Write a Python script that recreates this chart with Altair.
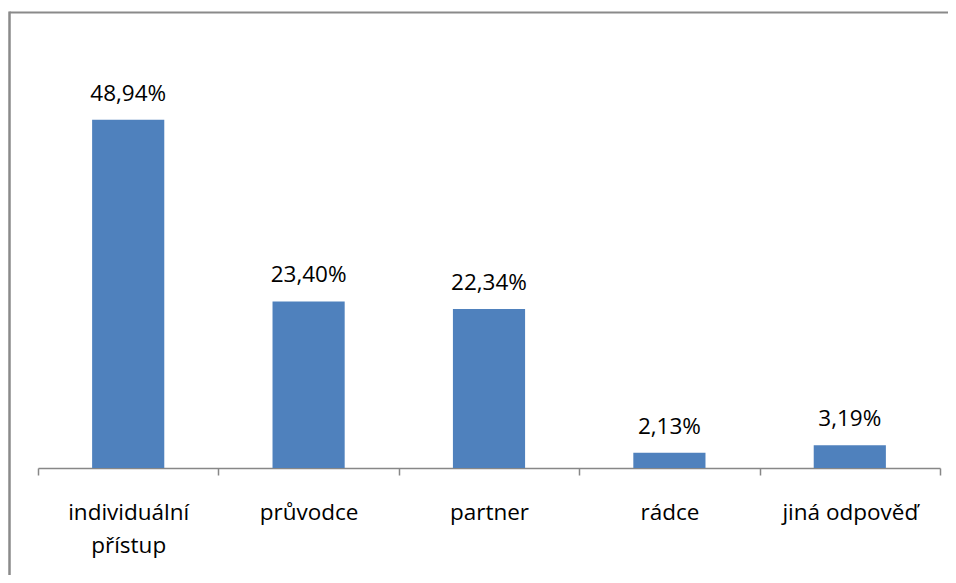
import altair as alt
import pandas as pd

categories = ["individuální přístup", "průvodce", "partner", "rádce", "jiná odpověď"]
values = [48.94, 23.40, 22.34, 2.13, 3.19]
value_labels = ["48,94%", "23,40%", "22,34%", "2,13%", "3,19%"]

df = pd.DataFrame({"cat": categories, "val": values, "lab": value_labels})

W, H = 902, 427
FONT = "Open Sans"
GRAY = "#878787"

x = alt.X(
    "cat:N",
    sort=categories,
    scale=alt.Scale(paddingInner=0, paddingOuter=0),
    axis=alt.Axis(
        title=None,
        labelAngle=0,
        tickBand="extent",
        tickSize=7,
        tickColor=GRAY,
        tickWidth=1.5,
        domainColor=GRAY,
        domainWidth=1.5,
        labelFont=FONT,
        labelFontSize=22.5,
        labelColor="#000000",
        labelPadding=26,
        labelLineHeight=33,
        labelBaseline="top",
        labelExpr="datum.value == 'individuální přístup' ? ['individuální', 'přístup'] : datum.value",
    ),
)
y = alt.Y("val:Q", scale=alt.Scale(domain=[0, 60]), axis=None)

bars = alt.Chart(df).mark_bar(color="#4F81BD", width=alt.RelativeBandSize(0.4)).encode(x=x, y=y)
texts = alt.Chart(df).mark_text(
    font=FONT, fontSize=22.5, color="#000000", baseline="alphabetic", dy=-19
).encode(x=x, y=y, text="lab:N")

frame = pd.DataFrame({"k": [0]})
top_line = alt.Chart(frame).mark_rule(color="#8a8a8a", strokeWidth=2).encode(
    x=alt.value(-28.5), x2=alt.value(W + 20), y=alt.value(-28.5)
)
left_line = alt.Chart(frame).mark_rule(color="#8a8a8a", strokeWidth=2.5).encode(
    x=alt.value(-28.5), y=alt.value(-29.5), y2=alt.value(H + 120)
)

chart = (
    alt.layer(bars, texts, top_line, left_line)
    .properties(
        width=W,
        height=H,
        autosize=alt.AutoSizeParams(type="none"),
        padding={"left": 30, "top": 33, "right": 8, "bottom": 107},
    )
    .configure_view(stroke=None)
)

chart.save("out.html", embed_options={"renderer": "svg", "actions": False})
